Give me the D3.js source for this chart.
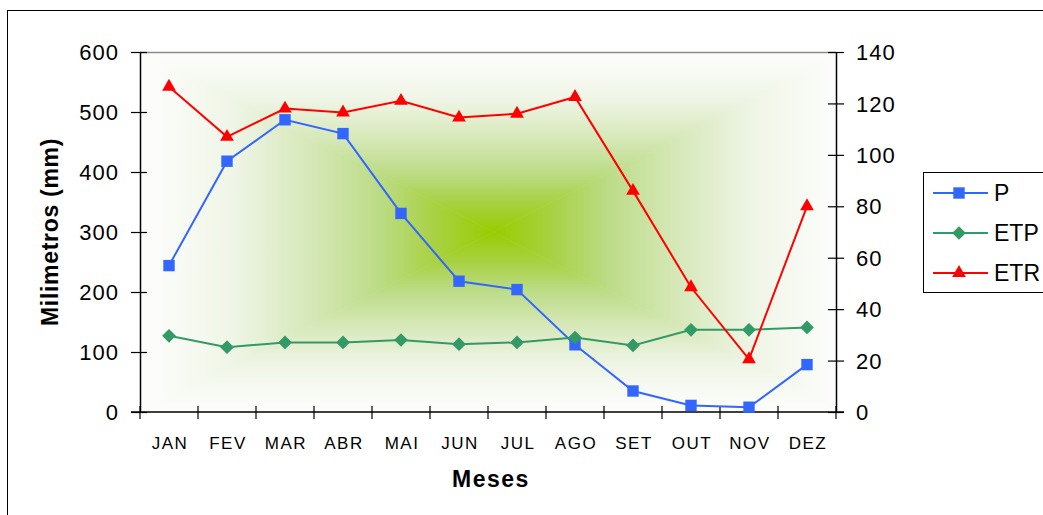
<!DOCTYPE html>
<html>
<head>
<meta charset="utf-8">
<script src="https://cdn.jsdelivr.net/npm/d3@7"></script>
<style>
  html, body { margin: 0; padding: 0; background: #ffffff; }
  svg { display: block; font-family: "Liberation Sans", Arial, sans-serif; }
</style>
</head>
<body>
<svg id="chart" width="1043" height="515"></svg>
<script>
// Monthly water balance: precipitation (P), potential (ETP) and real (ETR) evapotranspiration
const months = ["JAN", "FEV", "MAR", "ABR", "MAI", "JUN", "JUL", "AGO", "SET", "OUT", "NOV", "DEZ"];
const valuesP   = [244, 418, 487, 464, 331, 218, 204, 112, 35, 11, 8, 79];
const valuesETP = [127, 108, 116, 116, 120, 113, 116, 124, 111, 137, 137, 141];
const valuesETR = [126.5, 107, 118, 116.5, 121, 114.5, 116, 122.5, 86, 48.5, 20.5, 80];
const leftTicks  = [0, 100, 200, 300, 400, 500, 600];
const rightTicks = [0, 20, 40, 60, 80, 100, 120, 140];
const seriesNames = ["P", "ETP", "ETR"];

const svg = d3.select("#chart");
const plot = { left: 140, right: 836, top: 52, bottom: 412 };

const x  = d3.scaleBand().domain(months).range([plot.left, plot.right]).padding(0);
const yL = d3.scaleLinear().domain([0, 600]).range([plot.bottom, plot.top]);
const yR = d3.scaleLinear().domain([0, 140]).range([plot.bottom, plot.top]);

// Outer chart frame
svg.append("rect")
  .attr("x", 7.5).attr("y", 10.5).attr("width", 1100).attr("height", 600)
  .attr("fill", "#ffffff").attr("stroke", "#000").attr("stroke-width", 1);

// Plot area background
svg.append("rect")
  .attr("x", plot.left).attr("y", plot.top)
  .attr("width", plot.right - plot.left).attr("height", plot.bottom - plot.top)
  .attr("fill", "#fcfcfa");

// Rectangular "from centre" gradient: four triangles meeting in the middle
const g = { x0: 161, x1: 826, y0: 62, y1: 402 };
const cx = (g.x0 + g.x1) / 2, cy = (g.y0 + g.y1) / 2;
const defs = svg.append("defs");
const stops = [
  [0.00, "#fbfcf9"],
  [0.22, "#eff5e6"],
  [0.45, "#d6e8b8"],
  [0.65, "#bddc88"],
  [0.82, "#a8d244"],
  [1.00, "#99cc00"]
];
const sides = [
  { id: "gTop",    x1: cx, y1: g.y0, x2: cx, y2: cy, pts: [[g.x0, g.y0], [g.x1, g.y0], [cx, cy]] },
  { id: "gBottom", x1: cx, y1: g.y1, x2: cx, y2: cy, pts: [[g.x0, g.y1], [g.x1, g.y1], [cx, cy]] },
  { id: "gLeft",   x1: g.x0, y1: cy, x2: cx, y2: cy, pts: [[g.x0, g.y0], [g.x0, g.y1], [cx, cy]] },
  { id: "gRight",  x1: g.x1, y1: cy, x2: cx, y2: cy, pts: [[g.x1, g.y0], [g.x1, g.y1], [cx, cy]] }
];
sides.forEach(s => {
  const lg = defs.append("linearGradient").attr("id", s.id)
    .attr("gradientUnits", "userSpaceOnUse")
    .attr("x1", s.x1).attr("y1", s.y1).attr("x2", s.x2).attr("y2", s.y2);
  stops.forEach(([o, c]) => lg.append("stop").attr("offset", o).attr("stop-color", c));
  svg.append("polygon")
    .attr("points", s.pts.map(p => p.join(",")).join(" "))
    .attr("fill", `url(#${s.id})`)
    .attr("stroke", `url(#${s.id})`).attr("stroke-width", 0.6);
});

// Top edge of plot area
svg.append("line")
  .attr("x1", plot.left).attr("x2", plot.right)
  .attr("y1", plot.top + 0.5).attr("y2", plot.top + 0.5)
  .attr("stroke", "#8c8c8c").attr("stroke-width", 1.5);

// Left axis
const axL = svg.append("g").attr("transform", `translate(${plot.left},0)`)
  .call(d3.axisLeft(yL).tickValues(leftTicks).tickSizeOuter(0).tickSizeInner(9).tickPadding(13));
axL.select(".domain").attr("stroke", "#000").attr("stroke-width", 1.5);
axL.selectAll(".tick line").attr("x1", 7).attr("x2", -9).attr("stroke-width", 1.2);
axL.selectAll(".tick text")
  .attr("font-size", 22).attr("font-family", "Liberation Sans, Arial, sans-serif")
  .attr("letter-spacing", 1).attr("fill", "#000").attr("dx", 1).attr("dy", "0.35em");

// Right axis
const axR = svg.append("g").attr("transform", `translate(${plot.right},0)`)
  .call(d3.axisRight(yR).tickValues(rightTicks).tickSizeOuter(0).tickSizeInner(8).tickPadding(14));
axR.select(".domain").attr("stroke", "#000").attr("stroke-width", 1.5);
axR.selectAll(".tick line").attr("x1", -8).attr("x2", 8).attr("stroke-width", 1.2);
axR.selectAll(".tick text")
  .attr("font-size", 22).attr("font-family", "Liberation Sans, Arial, sans-serif")
  .attr("letter-spacing", 1).attr("fill", "#000").attr("x", 20).attr("dy", "0.35em");

// Bottom axis: labels centred on months, ticks on month boundaries
const axB = svg.append("g").attr("transform", `translate(0,${plot.bottom})`)
  .call(d3.axisBottom(x).tickSize(0).tickPadding(25));
axB.select(".domain").remove();
axB.selectAll(".tick text")
  .attr("font-size", 17).attr("font-family", "Liberation Sans, Arial, sans-serif")
  .attr("letter-spacing", 1.5).attr("fill", "#000").attr("dx", 1);
svg.append("line")
  .attr("x1", plot.left - 9).attr("x2", plot.right + 8)
  .attr("y1", plot.bottom).attr("y2", plot.bottom)
  .attr("stroke", "#000").attr("stroke-width", 1.5);
svg.append("g").selectAll("line")
  .data(d3.range(months.length + 1))
  .join("line")
  .attr("x1", i => plot.left + i * x.step()).attr("x2", i => plot.left + i * x.step())
  .attr("y1", plot.bottom - 6).attr("y2", plot.bottom + 7)
  .attr("stroke", "#000").attr("stroke-width", 1.2);

// Axis titles
svg.append("text")
  .attr("transform", `translate(58,232) rotate(-90)`)
  .attr("text-anchor", "middle")
  .attr("font-size", 23).attr("font-weight", "bold").attr("letter-spacing", 0.7)
  .text("Milimetros (mm)");
svg.append("text")
  .attr("x", 491).attr("y", 487)
  .attr("text-anchor", "middle")
  .attr("font-size", 23).attr("font-weight", "bold").attr("letter-spacing", 1.5)
  .text("Meses");

// Marker shapes
const square   = d3.symbol().type(d3.symbolSquare).size(130);
const diamond  = d3.symbol().type(d3.symbolDiamond2).size(120);
const triangle = d3.symbol().type(d3.symbolTriangle2).size(135);

const series = [
  { name: "P",   values: valuesP,   y: yL, color: "#3366ff", marker: square },
  { name: "ETP", values: valuesETP, y: yL, color: "#339966", marker: diamond },
  { name: "ETR", values: valuesETR, y: yR, color: "#ff0000", marker: triangle }
];

const cxOf = m => x(m) + x.bandwidth() / 2;

// Draw series in back-to-front order: P, ETP, ETR
series.forEach(s => {
  const line = d3.line().x((d, i) => cxOf(months[i])).y(d => s.y(d));
  svg.append("path")
    .datum(s.values)
    .attr("d", line)
    .attr("fill", "none").attr("stroke", s.color).attr("stroke-width", 2);
  svg.append("g").selectAll("path")
    .data(s.values)
    .join("path")
    .attr("d", s.marker)
    .attr("transform", (d, i) => `translate(${cxOf(months[i])},${s.y(d)})`)
    .attr("fill", s.color);
});

// Legend
const legend = svg.append("g");
legend.append("rect")
  .attr("x", 923.5).attr("y", 172.5).attr("width", 200).attr("height", 120)
  .attr("fill", "#ffffff").attr("stroke", "#000").attr("stroke-width", 1);
series.forEach((s, i) => {
  const ly = 193 + i * 40;
  legend.append("line")
    .attr("x1", 933).attr("x2", 988).attr("y1", ly).attr("y2", ly)
    .attr("stroke", s.color).attr("stroke-width", 2);
  legend.append("path")
    .attr("d", s.marker)
    .attr("transform", `translate(959,${ly})`)
    .attr("fill", s.color);
  legend.append("text")
    .attr("x", 994).attr("y", ly + 8)
    .attr("font-size", 23)
    .text(seriesNames[i]);
});
</script>
</body>
</html>
